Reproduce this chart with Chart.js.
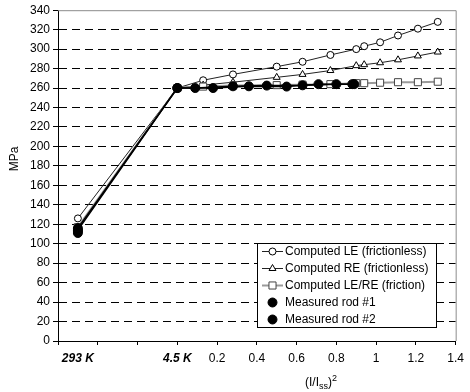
<!DOCTYPE html>
<html>
<head>
<meta charset="utf-8">
<script src="https://cdn.jsdelivr.net/npm/chart.js@4.4.0/dist/chart.umd.min.js"></script>
<style>
  html, body { margin: 0; padding: 0; background: #fff; }
  #wrap { width: 470px; height: 392px; position: relative; }
</style>
</head>
<body>
<div id="wrap"><canvas id="chart"></canvas></div>
<script>
// x = (I/Iss)^2, with the 293 K point placed at -0.5 left of 4.5 K (x = 0)
const xComputed = [-0.5, 0, 0.13, 0.28, 0.5, 0.63, 0.77, 0.9, 0.94, 1.02, 1.11, 1.21, 1.31];
const leFrictionless = [126, 260, 268, 274, 282, 287, 294, 300, 303, 307, 314, 321, 328];
const reFrictionless = [117, 260, 263, 266, 271, 274, 278, 283, 284, 286, 289, 293, 297];
const leReFriction = [117, 260, 261.5, 262.5, 263, 263.5, 264, 265, 265, 265.5, 266, 266, 266.5];

const rod1X = [-0.5, -0.5, 0, 0.09, 0.28, 0.45, 0.63, 0.8, 0.88];
const rod1Y = [113, 116, 260, 260, 261.8, 262.5, 262.8, 264, 264];
const rod2X = [-0.5, -0.5, 0, 0.18, 0.36, 0.55, 0.71, 0.89];
const rod2Y = [111, 114, 260, 260, 261.8, 261.5, 264, 264];

const seriesNames = [
  'Computed LE (frictionless)',
  'Computed RE (frictionless)',
  'Computed LE/RE (friction)',
  'Measured rod #1',
  'Measured rod #2'
];

const yMin = 0, yMax = 340, yStep = 20;
const xMin = -0.6, xMax = 1.4, xStep = 0.2;
const tempTicks = [{ value: -0.5, label: '293 K' }, { value: 0, label: '4.5 K' }];

const FONT = "'Liberation Sans', Arial, sans-serif";

function pts(xs, ys) {
  return xs.map((x, i) => ({ x, y: ys[i] }));
}

function drawSymbol(ctx, style, x, y, r, fill, stroke, lw) {
  ctx.save();
  ctx.beginPath();
  if (style === 'circle') {
    ctx.arc(x, y, r, 0, Math.PI * 2);
  } else if (style === 'triangle') {
    for (let k = 0; k < 3; k++) {
      const a = k * 2 * Math.PI / 3;
      const px = x + Math.sin(a) * r, py = y - Math.cos(a) * r;
      if (k === 0) ctx.moveTo(px, py); else ctx.lineTo(px, py);
    }
    ctx.closePath();
  } else {
    const s = Math.SQRT1_2 * r;
    ctx.rect(x - s, y - s, 2 * s, 2 * s);
  }
  ctx.fillStyle = fill;
  ctx.fill();
  ctx.lineWidth = lw;
  ctx.strokeStyle = stroke;
  ctx.stroke();
  ctx.restore();
}

const framePlugin = {
  id: 'frame',
  beforeDatasetsDraw(chart) {
    const { ctx, chartArea: a } = chart;
    ctx.save();
    ctx.strokeStyle = '#8c8c8c';
    ctx.lineWidth = 1;
    ctx.beginPath();
    ctx.moveTo(a.left, a.top + 0.5);
    ctx.lineTo(a.right + 0.5, a.top + 0.5);
    ctx.lineTo(a.right + 0.5, a.bottom);
    ctx.stroke();
    ctx.restore();
  }
};

const titlesPlugin = {
  id: 'titles',
  afterDraw(chart) {
    const ctx = chart.ctx;
    ctx.save();
    ctx.fillStyle = '#000';
    // y title
    ctx.font = '12px ' + FONT;
    ctx.textAlign = 'center';
    ctx.textBaseline = 'middle';
    ctx.translate(15, 159);
    ctx.rotate(-Math.PI / 2);
    ctx.fillText('MPa', 0, 0);
    ctx.setTransform(1, 0, 0, 1, 0, 0);
    // x title: (I/Iss)^2
    const main = '12px ' + FONT, small = '9px ' + FONT;
    const parts = [['(I/I', main, 0], ['ss', small, 3], [')', main, 0], ['2', small, -5]];
    let w = 0;
    parts.forEach(p => { ctx.font = p[1]; w += ctx.measureText(p[0]).width; });
    let x = 321 - w / 2;
    const base = 386;
    ctx.textAlign = 'left';
    ctx.textBaseline = 'alphabetic';
    parts.forEach(p => {
      ctx.font = p[1];
      ctx.fillText(p[0], x, base + p[2]);
      x += ctx.measureText(p[0]).width;
    });
    ctx.restore();
  }
};

const legendPlugin = {
  id: 'legendBox',
  afterDraw(chart) {
    const ctx = chart.ctx;
    const bx = 257, by = 243, bw = 179, bh = 84;
    ctx.save();
    ctx.fillStyle = '#fff';
    ctx.fillRect(bx, by, bw, bh);
    ctx.strokeStyle = '#000';
    ctx.lineWidth = 1;
    ctx.strokeRect(bx + 0.5, by + 0.5, bw, bh);
    ctx.font = '12px ' + FONT;
    ctx.textAlign = 'left';
    ctx.textBaseline = 'middle';
    chart.data.datasets.forEach((ds, i) => {
      const y = by + 8 + i * 17;
      if (ds.legendLine) {
        ctx.strokeStyle = ds.borderColor;
        ctx.lineWidth = ds.borderWidth;
        ctx.beginPath();
        ctx.moveTo(bx + 5, y + 0.5);
        ctx.lineTo(bx + 26, y + 0.5);
        ctx.stroke();
      }
      drawSymbol(ctx, ds.pointStyle, bx + 15.5, y + 0.5, ds.pointRadius,
        ds.pointBackgroundColor, ds.pointBorderColor, ds.pointBorderWidth);
      ctx.fillStyle = '#000';
      ctx.fillText(ds.label, bx + 28, y + 1);
    });
    ctx.restore();
  }
};

new Chart(document.getElementById('chart'), {
  type: 'line',
  data: {
    datasets: [
      {
        label: seriesNames[0], data: pts(xComputed, leFrictionless), order: 3,
        borderColor: '#222', borderWidth: 1, pointStyle: 'circle', pointRadius: 3.5,
        pointBackgroundColor: '#fff', pointBorderColor: '#000', pointBorderWidth: 1, legendLine: true
      },
      {
        label: seriesNames[1], data: pts(xComputed, reFrictionless), order: 2,
        borderColor: '#222', borderWidth: 1, pointStyle: 'triangle', pointRadius: 4,
        pointBackgroundColor: '#fff', pointBorderColor: '#000', pointBorderWidth: 1, legendLine: true
      },
      {
        label: seriesNames[2], data: pts(xComputed, leReFriction), order: 1,
        borderColor: '#9a9a9a', borderWidth: 2, pointStyle: 'rect', pointRadius: 5,
        pointBackgroundColor: '#fff', pointBorderColor: '#444', pointBorderWidth: 1, legendLine: true
      },
      {
        label: seriesNames[3], data: pts(rod1X, rod1Y), order: 0,
        borderColor: '#000', borderWidth: 1.5, pointStyle: 'circle', pointRadius: 4.5,
        pointBackgroundColor: '#000', pointBorderColor: '#000', pointBorderWidth: 1, legendLine: false
      },
      {
        label: seriesNames[4], data: pts(rod2X, rod2Y), order: 0,
        borderColor: '#000', borderWidth: 1.5, pointStyle: 'circle', pointRadius: 4.5,
        pointBackgroundColor: '#000', pointBorderColor: '#000', pointBorderWidth: 1, legendLine: false
      }
    ]
  },
  options: {
    responsive: true,
    maintainAspectRatio: false,
    animation: false,
    devicePixelRatio: 1,
    layout: { padding: { top: 8, right: 11, bottom: 0, left: 0 } },
    plugins: {
      legend: { display: false },
      tooltip: { enabled: false }
    },
    scales: {
      x: {
        type: 'linear',
        min: xMin,
        max: xMax,
        afterFit: s => { s.height = 51; },
        afterBuildTicks: s => {
          s.ticks = s.ticks.filter(t => t.value !== tempTicks[0].value);
          s.ticks.push({ value: tempTicks[0].value });
          s.ticks.sort((a, b) => a.value - b.value);
        },
        border: { display: true, color: '#000', width: 1 },
        grid: {
          drawOnChartArea: false,
          drawTicks: true,
          tickLength: 4,
          tickColor: c => (c.tick && c.tick.value === tempTicks[0].value) ? 'rgba(0,0,0,0)' : '#000'
        },
        ticks: {
          stepSize: xStep,
          autoSkip: false,
          maxRotation: 0,
          padding: 6,
          color: '#000',
          font: c => {
            const v = c.tick ? c.tick.value : 1;
            return v <= 0 ? { family: FONT, size: 12, style: 'italic', weight: 'bold' }
                          : { family: FONT, size: 12 };
          },
          callback: v => {
            const t = tempTicks.find(t => Math.abs(t.value - v) < 1e-9);
            if (t) return t.label;
            if (v < 0) return '';
            return String(+v.toFixed(1));
          }
        }
      },
      y: {
        min: yMin,
        max: yMax,
        afterFit: s => { s.width = 58; },
        border: { display: true, color: '#000', width: 1, dash: [8, 5] },
        grid: {
          color: c => (c.tick && (c.tick.value === yMin || c.tick.value === yMax)) ? 'rgba(0,0,0,0)' : '#000',
          lineWidth: 1,
          tickColor: '#000',
          tickLength: 5
        },
        ticks: {
          stepSize: yStep,
          padding: 3,
          color: '#000',
          font: { family: FONT, size: 12 }
        }
      }
    }
  },
  plugins: [framePlugin, titlesPlugin, legendPlugin]
});
</script>
</body>
</html>
